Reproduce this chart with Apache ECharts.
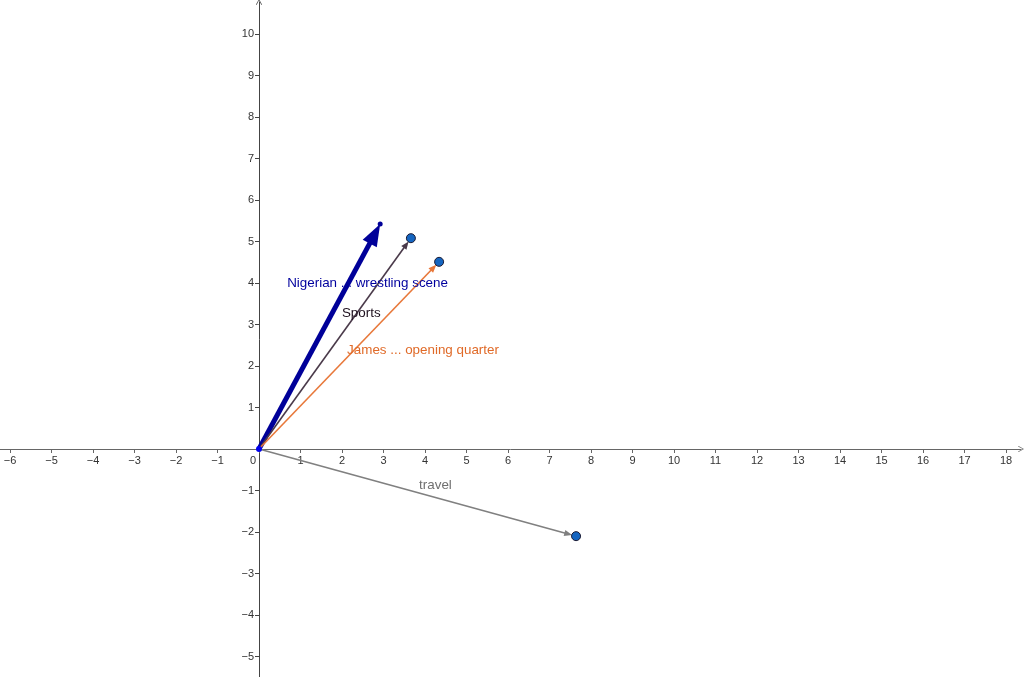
<!DOCTYPE html>
<html>
<head>
<meta charset="utf-8">
<script src="https://cdn.jsdelivr.net/npm/echarts@6/dist/echarts.min.js"></script>
<style>html,body{margin:0;padding:0;background:#fff}#c{width:1024px;height:677px}</style>
</head>
<body>
<div id="c"></div>
<script>
// ---- data ----
const xTicks = [-6,-5,-4,-3,-2,-1,0,1,2,3,4,5,6,7,8,9,10,11,12,13,14,15,16,17,18];
const yTicks = [-5,-4,-3,-2,-1,1,2,3,4,5,6,7,8,9,10];
const vectorNames = ['Nigerian ... wrestling scene', 'Sports', 'James ... opening quarter', 'travel'];
const vectorX = [2.92, 3.66, 4.34, 7.64];
const vectorY = [5.42, 5.08, 4.51, -2.10];

// ---- styles ----
const styles = [
  {color:'#000099', width:5, headLen:22, headHalf:8, tipGap:0, dot:5, dotColor:'#000099', labelColor:'#00009e', offset:[-93,59]},
  {color:'#4a3a4a', width:1.6, headLen:8, headHalf:3.2, tipGap:4, dot:9, dotColor:'#1565c0', labelColor:'#1e101e', offset:[-69,75]},
  {color:'#e8783a', width:1.6, headLen:8, headHalf:3.2, tipGap:4, dot:9, dotColor:'#1565c0', labelColor:'#e06a28', offset:[-92,88]},
  {color:'#808080', width:1.6, headLen:8, headHalf:3.2, tipGap:4, dot:9, dotColor:'#1565c0', labelColor:'#707070', offset:[-157,-51]}
];

const PX = 41.5;
const W = 1024, H = 677, ox = 259, oy = 449;
const gl = 0, gr = 3, gt = 2, gb = 0;
const xmin = -(ox - gl) / PX, xmax = (W - gr - ox) / PX;
const ymax = (oy - gt) / PX, ymin = -(H - gb - oy) / PX;

const chevron = 'path://M5,0 L10,9 L9,10 L5,2 L1,10 L0,9 Z';

function vectorRenderer(s) {
  return function (params, api) {
    const p0 = api.coord([0, 0]);
    const p1 = api.coord([api.value(0), api.value(1)]);
    const dx = p1[0] - p0[0], dy = p1[1] - p0[1];
    const L = Math.sqrt(dx * dx + dy * dy);
    const ux = dx / L, uy = dy / L;
    const tip = [p1[0] - ux * s.tipGap, p1[1] - uy * s.tipGap];
    const base = [tip[0] - ux * s.headLen, tip[1] - uy * s.headLen];
    const nx = -uy, ny = ux;
    return {
      type: 'group',
      children: [
        {type: 'line', shape: {x1: p0[0], y1: p0[1], x2: base[0] + ux * 2, y2: base[1] + uy * 2},
         style: {stroke: s.color, lineWidth: s.width}},
        {type: 'polygon', shape: {points: [tip,
          [base[0] + nx * s.headHalf, base[1] + ny * s.headHalf],
          [base[0] - nx * s.headHalf, base[1] - ny * s.headHalf]]},
         style: {fill: s.color}}
      ]
    };
  };
}

const series = [];
vectorNames.forEach((name, i) => {
  const s = styles[i];
  series.push({
    type: 'custom',
    coordinateSystem: 'cartesian2d',
    silent: true,
    z: 3,
    renderItem: vectorRenderer(s),
    data: [[vectorX[i], vectorY[i]]]
  });
  series.push({
    type: 'scatter',
    symbolSize: s.dot,
    z: 4,
    itemStyle: {color: s.dotColor, opacity: 1, borderColor: '#1a1a33', borderWidth: i === 0 ? 0 : 1},
    label: {
      show: true,
      formatter: name,
      position: 'inside',
      align: 'left',
      verticalAlign: 'middle',
      offset: s.offset,
      color: s.labelColor,
      fontFamily: 'Liberation Sans, Arial, sans-serif',
      fontSize: 13.4
    },
    data: [[vectorX[i], vectorY[i]]]
  });
});
// origin point
series.push({
  type: 'scatter', symbolSize: 6, z: 5,
  itemStyle: {color: '#0000ee', opacity: 1},
  data: [[0, 0]]
});

const chart = echarts.init(document.getElementById('c'), null, {renderer: 'canvas'});
chart.setOption({
  animation: false,
  backgroundColor: '#ffffff',
  grid: {left: gl, right: gr, top: gt, bottom: gb, containLabel: false, outerBoundsMode: 'none'},
  xAxis: {
    type: 'value', min: xmin, max: xmax,
    position: 'bottom', offset: -(H - gb - oy),
    splitLine: {show: false},
    axisLine: {onZero: false, lineStyle: {color: '#666', width: 1}, symbol: ['none', chevron], symbolSize: [9, 6]},
    axisTick: {show: true, length: 4, lineStyle: {color: '#666'}, customValues: xTicks},
    axisLabel: {
      customValues: xTicks, margin: 6, color: '#333', fontSize: 11,
      fontFamily: 'Liberation Sans, Arial, sans-serif',
      formatter: v => v === 0 ? '{z|0}' : (v < 0 ? '\u2212' + (-v) : String(v)),
      rich: {z: {padding: [0, 12, 0, 0], fontSize: 11, color: '#333'}}
    }
  },
  yAxis: {
    type: 'value', min: ymin, max: ymax,
    position: 'left', offset: -(ox - gl),
    splitLine: {show: false},
    axisLine: {onZero: false, lineStyle: {color: '#444', width: 1}, symbol: ['none', chevron], symbolSize: [9, 6]},
    axisTick: {show: true, length: 4, lineStyle: {color: '#444'}, customValues: yTicks},
    axisLabel: {
      customValues: yTicks, margin: 5, color: '#333', fontSize: 11,
      fontFamily: 'Liberation Sans, Arial, sans-serif',
      formatter: v => v < 0 ? '\u2212' + (-v) : String(v)
    }
  },
  series: series
});
</script>
</body>
</html>
